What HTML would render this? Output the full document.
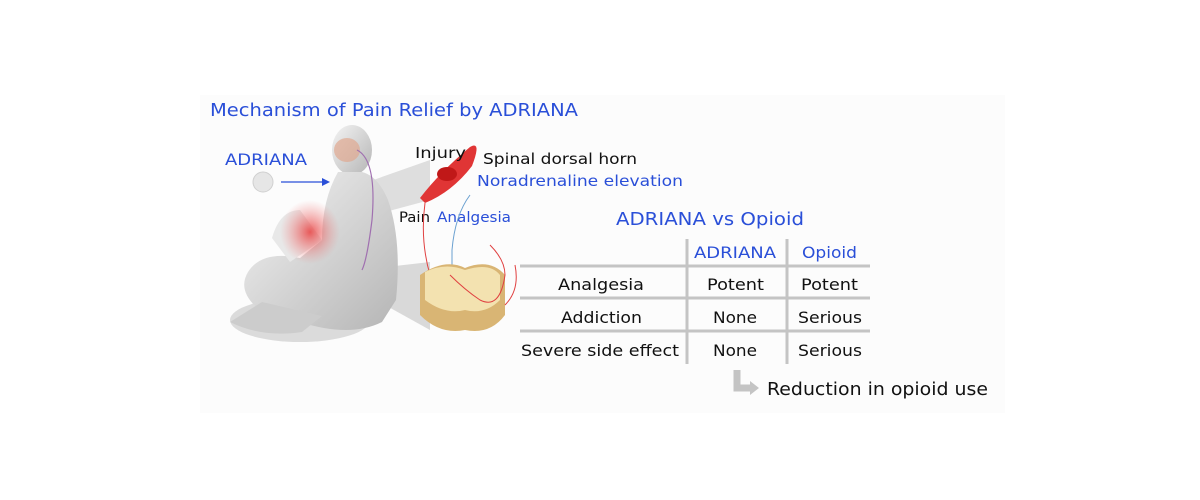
<!DOCTYPE html>
<html><head><meta charset="utf-8"><style>
html,body{margin:0;padding:0;background:#fff;}
svg{display:block}
text{font-family:"DejaVu Sans","Liberation Sans",sans-serif;}
</style></head><body>
<svg width="1200" height="500" viewBox="0 0 1200 500" xmlns="http://www.w3.org/2000/svg">
<defs>
<radialGradient id="red" cx="50%" cy="50%" r="50%"><stop offset="0" stop-color="#e84040" stop-opacity=".85"/><stop offset="1" stop-color="#f08080" stop-opacity="0"/></radialGradient>
<linearGradient id="body" x1="0" y1="0" x2="1" y2="1"><stop offset="0" stop-color="#f4f4f4"/><stop offset="1" stop-color="#b5b5b5"/></linearGradient>
</defs>
<rect x="200" y="95" width="805" height="318" fill="#fcfcfc"/>
<text x="210" y="116" font-size="18" fill="#2a4fd8" textLength="368" lengthAdjust="spacingAndGlyphs">Mechanism of Pain Relief by ADRIANA</text>
<text x="225" y="165" font-size="16" fill="#2a4fd8" textLength="82" lengthAdjust="spacingAndGlyphs">ADRIANA</text>
<circle cx="263" cy="182" r="10" fill="#e6e6e6" stroke="#d0d0d0"/>
<line x1="281" y1="182" x2="325" y2="182" stroke="#2a4fd8" stroke-width="1.3"/>
<polygon points="330,182 322,178 322,186" fill="#2a4fd8"/>
<!-- projections -->
<polygon points="345,190 430,160 430,200 355,220" fill="#999" opacity=".3"/>
<polygon points="360,270 430,262 430,330 385,305" fill="#999" opacity=".35"/>
<!-- body -->
<ellipse cx="300" cy="320" rx="70" ry="22" fill="#aaa" opacity=".4"/>
<ellipse cx="352" cy="150" rx="20" ry="25" fill="url(#body)"/>
<path d="M338,172 Q322,200 322,240 L300,258 Q262,250 248,272 Q236,292 262,312 L300,322 Q350,338 382,322 L396,300 Q402,240 388,200 Q378,176 362,172 Z" fill="url(#body)"/>
<path d="M300,210 Q280,210 272,238 L290,262 L322,240 Z" fill="#e8e8e8"/>
<path d="M230,322 Q262,338 302,332 L322,316 L262,302 Z" fill="#ccc"/>
<ellipse cx="310" cy="232" rx="30" ry="32" fill="url(#red)"/>
<ellipse cx="347" cy="150" rx="13" ry="12" fill="#e0a890" opacity=".7"/>
<path d="M357,150 Q377,160 372,220 Q367,260 362,270" stroke="#a070b0" fill="none" stroke-width="1.2"/>
<!-- muscle -->
<path d="M420,198 Q440,172 470,147 Q482,140 472,166 Q452,192 425,203 Z" fill="#e03535"/>
<ellipse cx="447" cy="174" rx="10" ry="7" fill="#c01818"/>
<text x="415" y="158" font-size="15" fill="#111" textLength="51" lengthAdjust="spacingAndGlyphs">Injury</text>
<text x="483" y="164" font-size="15" fill="#111" textLength="154" lengthAdjust="spacingAndGlyphs">Spinal dorsal horn</text>
<text x="477" y="186" font-size="15" fill="#2a4fd8" textLength="206" lengthAdjust="spacingAndGlyphs">Noradrenaline elevation</text>
<text x="399" y="222" font-size="14" fill="#111" textLength="31" lengthAdjust="spacingAndGlyphs">Pain</text>
<text x="437" y="222" font-size="14" fill="#2a4fd8" textLength="74" lengthAdjust="spacingAndGlyphs">Analgesia</text>
<path d="M470,195 Q455,215 452,250 L452,265" stroke="#6aa0d0" fill="none" stroke-width="1"/>
<path d="M425,203 Q420,240 430,275" stroke="#e04040" fill="none" stroke-width="1"/>
<!-- cord -->
<path d="M420,275 Q445,258 465,268 Q490,258 505,275 L505,315 Q490,335 465,330 Q440,335 420,315 Z" fill="#d9b574"/>
<path d="M425,272 Q445,262 465,270 Q490,262 500,275 L500,300 Q485,315 465,310 Q445,315 425,300 Z" fill="#f3e2b0"/>
<path d="M450,275 Q465,290 480,300 Q500,310 505,275 Q505,260 490,245" stroke="#e04040" fill="none"/>
<path d="M515,265 Q520,290 505,305" stroke="#e04040" fill="none"/>
<!-- table -->
<text x="616" y="225" font-size="18" fill="#2a4fd8" textLength="188" lengthAdjust="spacingAndGlyphs">ADRIANA vs Opioid</text>
<g stroke="#c4c4c4" stroke-width="3">
<line x1="520" y1="266" x2="870" y2="266"/>
<line x1="520" y1="298" x2="870" y2="298"/>
<line x1="520" y1="331" x2="870" y2="331"/>
<line x1="687" y1="239" x2="687" y2="364"/>
<line x1="787" y1="239" x2="787" y2="364"/>
</g>
<g font-size="16" lengthAdjust="spacingAndGlyphs">
<text x="694" y="258" fill="#2a4fd8" textLength="82" lengthAdjust="spacingAndGlyphs">ADRIANA</text>
<text x="802" y="258" fill="#2a4fd8" textLength="55" lengthAdjust="spacingAndGlyphs">Opioid</text>
<text x="558" y="290" fill="#111" textLength="86" lengthAdjust="spacingAndGlyphs">Analgesia</text>
<text x="707" y="290" fill="#111" textLength="57" lengthAdjust="spacingAndGlyphs">Potent</text>
<text x="801" y="290" fill="#111" textLength="57" lengthAdjust="spacingAndGlyphs">Potent</text>
<text x="561" y="323" fill="#111" textLength="81" lengthAdjust="spacingAndGlyphs">Addiction</text>
<text x="713" y="323" fill="#111" textLength="44" lengthAdjust="spacingAndGlyphs">None</text>
<text x="798" y="323" fill="#111" textLength="64" lengthAdjust="spacingAndGlyphs">Serious</text>
<text x="521" y="356" fill="#111" textLength="158" lengthAdjust="spacingAndGlyphs">Severe side effect</text>
<text x="713" y="356" fill="#111" textLength="44" lengthAdjust="spacingAndGlyphs">None</text>
<text x="798" y="356" fill="#111" textLength="64" lengthAdjust="spacingAndGlyphs">Serious</text>
</g>
<path d="M737,370 L737,388 L752,388" stroke="#c4c4c4" stroke-width="7" fill="none"/>
<polygon points="750,381 759,388 750,395" fill="#c4c4c4"/>
<text x="767" y="395" font-size="18" fill="#111" textLength="221" lengthAdjust="spacingAndGlyphs">Reduction in opioid use</text>
</svg>
</body></html>
